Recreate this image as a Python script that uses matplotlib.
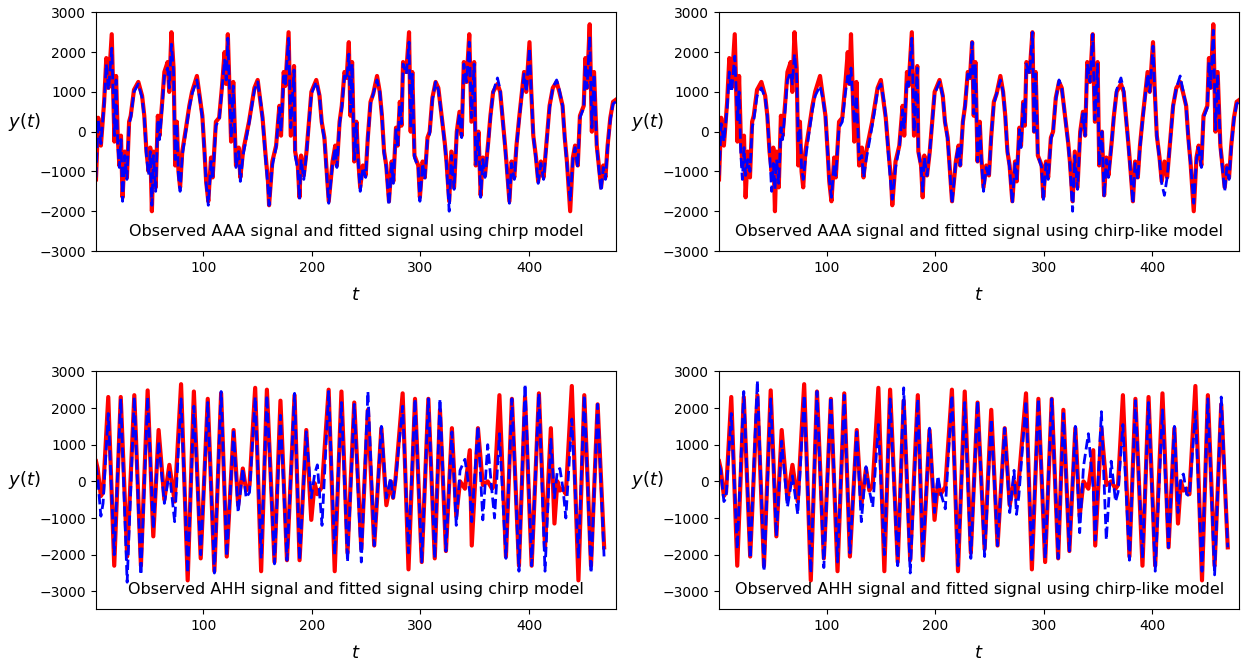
import numpy as np
import matplotlib.pyplot as plt

# AAA signal (top row): time points, observed and two fitted signals
t_aaa = [1, 3, 5.5, 8.5, 10.5, 12.5, 15.5, 18, 19.5, 21,
         22.5, 24, 25.5, 27.5, 29.5, 31.5, 33, 36, 40, 43.5,
         45.5, 47.5, 49.5, 51, 52.5, 54, 56, 58, 59.5, 62,
         64, 67, 68.5, 70.5, 72.5, 74, 75.5, 77, 78.5, 80.5,
         84, 87, 89.5, 94, 96.5, 99, 101, 102.5, 104.5, 107,
         108.5, 111.5, 114.5, 117, 119.5, 121, 122.5, 125.5, 127.5, 130,
         132.5, 134, 136.5, 142, 145, 147, 150, 153, 154.5, 157,
         159.5, 160.5, 163.5, 167, 170, 171.5, 174, 175.5, 178.5, 180.5,
         183.5, 184.5, 187, 188.5, 190, 192.5, 195, 196.5, 199.5, 204,
         207, 209, 211.5, 213, 215.5, 219, 221.5, 223, 225.5, 227.5,
         230, 232, 234, 235.5, 237, 239, 241, 242.5, 244.5, 247,
         249.5, 251.5, 254, 256.5, 260, 262.5, 264.5, 266.5, 268.5, 271,
         273.5, 275, 277.5, 279, 281, 282.5, 284, 287, 289.5, 291,
         292.5, 294.5, 298, 299.5, 302, 304, 306.5, 308.5, 311, 314,
         316.5, 319.5, 322.5, 324, 326.5, 328.5, 331, 333.5, 336, 338,
         340, 342.5, 345, 347, 349.5, 351, 353.5, 355.5, 357.5, 359.5,
         362.5, 364.5, 367, 371, 373.5, 375.5, 378, 379.5, 382, 384,
         386.5, 388.5, 391, 393.5, 395.5, 397.5, 400.5, 402, 404, 406.5,
         408.5, 411, 413.5, 416.5, 419, 422, 425.5, 428, 431, 433,
         435, 438, 440.5, 442.5, 445, 447, 450.5, 452, 453.5, 456,
         458, 460, 462.5, 465, 466.5, 468.5, 470.5, 472.5, 475, 477.5,
         480]
aaa_obs = [-1200, 350, -350, 750, 1850, 1100, 2450, -250, 1400, -100,
           -850, -100, -1650, -500, -1150, 250, 400, 1050, 1250, 900,
           400, -500, -1000, -400, -2000, -500, -1400, 400, -100, 750,
           1500, 1750, 1000, 2500, 1600, -850, 250, -1000, -1400, -500,
           100, 650, 1000, 1400, 900, 400, -500, -1250, -1750, -650,
           -1150, 250, 350, 1100, 2000, 1200, 2450, -250, 1250, -850,
           -400, -1150, -500, 250, 750, 1100, 1300, 650, 350, -500,
           -1250, -1850, -750, -350, 650, -100, 1500, 1150, 2500, -100,
           1650, -500, -850, -1650, -600, -1100, -500, 0, 1000, 1300,
           900, 250, -150, -750, -1750, -750, -350, -850, 250, 650,
           1500, 1350, 2250, 400, 1750, -750, 250, -650, -1400, -850,
           -1100, -150, 750, 950, 1400, 1000, 400, -500, -850, -1750,
           -750, -1250, 100, -350, 750, 150, 1750, 1500, 2500, 0,
           1500, -600, -850, -1650, -750, -1150, -150, 0, 850, 1250,
           1100, 400, -300, -750, -1750, -500, -1400, 0, 500, -100,
           1750, 1250, 2450, 250, 1750, -850, 0, -1600, -650, -1100,
           -250, 400, 1000, 1200, 1000, 400, -350, -850, -1750, -750,
           -1150, -350, 350, 1000, 1500, 1000, 2250, 1100, -100, -650,
           -1250, -750, -1150, -150, 650, 1100, 1250, 1000, 650, -150,
           -750, -2000, -650, -350, -850, 400, 650, 1850, 1100, 2700,
           0, 1500, -350, -1000, -1400, -850, -1150, -350, 350, 750,
           800]
aaa_chirp = [-1150, 300, -300, 700, 1700, 1050, 2100, -100, 1300, -300,
             -900, -200, -1750, -600, -1200, 200, 350, 1000, 1200, 850,
             350, -600, -1100, -500, -1850, -600, -1500, 300, -200, 650,
             1400, 1600, 1100, 2200, 1500, -700, 200, -1100, -1500, -600,
             50, 600, 950, 1300, 850, 350, -550, -1300, -1850, -750,
             -1200, 150, 300, 1050, 1800, 1300, 2350, -150, 1150, -900,
             -500, -1250, -600, 200, 700, 1050, 1250, 700, 300, -600,
             -1400, -1850, -850, -400, 600, 0, 1400, 1200, 2350, 100,
             1550, -600, -950, -1700, -700, -1200, -550, -50, 950, 1250,
             900, 200, -200, -850, -1800, -800, -400, -900, 200, 600,
             1400, 1300, 1950, 500, 1700, -700, 200, -700, -1500, -900,
             -1150, -200, 700, 950, 1300, 1000, 400, -550, -900, -1850,
             -800, -1300, 50, -400, 700, 200, 1700, 1450, 2250, 100,
             1450, -650, -900, -1750, -800, -1200, -200, -50, 800, 1250,
             1050, 400, -350, -800, -2000, -600, -1450, -50, 450, -150,
             1700, 1250, 2250, 350, 1700, -850, -50, -1650, -700, -1150,
             -300, 350, 1000, 1350, 1050, 400, -400, -900, -1800, -800,
             -1200, -400, 300, 950, 1450, 1000, 2100, 1100, -100, -700,
             -1300, -800, -1200, -200, 600, 1100, 1300, 1050, 650, -200,
             -800, -1750, -700, -400, -900, 350, 600, 1700, 1100, 2400,
             100, 1450, -400, -1100, -1500, -900, -1200, -400, 300, 700,
             750]
aaa_chirplike = [-1100, 200, -250, 600, 1500, 1000, 1900, 300, 1000, -500,
                 -1200, -400, -1100, -700, -1000, 100, 300, 900, 1100, 850,
                 400, -500, -1500, -800, -1450, -700, -1300, 100, -200, 600,
                 1300, 1500, 1200, 1950, 1400, -300, 100, -900, -1200, -700,
                 0, 550, 900, 1150, 850, 400, -500, -1200, -1650, -800,
                 -1100, 100, 250, 900, 1400, 1200, 1600, 200, 900, -700,
                 -600, -1150, -700, 150, 650, 1050, 1200, 750, 350, -600,
                 -1450, -1700, -900, -400, 550, 100, 1300, 1150, 2350, 0,
                 1600, -500, -900, -1500, -650, -1100, -500, 0, 950, 1250,
                 900, 250, -200, -800, -1800, -750, -350, -850, 250, 650,
                 1450, 1300, 2250, 450, 1700, -750, 200, -700, -1500, -900,
                 -1150, -150, 700, 950, 1300, 1000, 400, -500, -900, -1800,
                 -800, -1250, 50, -400, 700, 200, 1700, 1450, 2500, 0,
                 1450, -600, -900, -1750, -800, -1200, -200, 0, 800, 1300,
                 1100, 400, -350, -800, -2000, -600, -1450, -50, 450, -100,
                 1700, 1250, 2450, 300, 1700, -850, 0, -1650, -700, -1150,
                 -250, 400, 1050, 1350, 1050, 400, -400, -900, -1800, -800,
                 -1200, -400, 300, 950, 1450, 1000, 2150, 1100, -100, -700,
                 -1300, -1600, -1150, -200, 650, 1100, 1400, 1050, 650, -200,
                 -800, -1800, -700, -400, -900, 350, 600, 1750, 1100, 2550,
                 50, 1450, -400, -1100, -1500, -900, -1200, -400, 300, 700,
                 750]

# AHH signal (bottom row)
t_ahh = [1, 2.5, 5.5, 7.5, 12.3, 17.8, 23.8, 29.7, 36.3, 42.4,
         48.6, 53.8, 58.7, 64, 68.6, 73.5, 79.4, 85.5, 91.2, 97.5,
         104, 110.1, 116.3, 121.5, 127.8, 132, 136.3, 139.4, 142.5, 147.7,
         153.2, 158.5, 165.5, 171, 177, 184, 188.6, 194.8, 199.4, 202.5,
         205, 209.3, 215.4, 221, 227.2, 232.8, 239, 245.5, 251.6, 257.4,
         264, 268.6, 272.6, 274.8, 277, 283.6, 289, 295, 301.2, 307.3,
         313.2, 318, 323.5, 329, 333, 336.5, 341, 345.5, 347.3, 353,
         357.5, 362, 366, 368.3, 372.8, 378.8, 384.3, 390.8, 396.4, 402.5,
         409.2, 414.8, 420.2, 423.5, 426.2, 428.5, 431.4, 434, 439.5, 445.6,
         451, 457.2, 463.3, 469.3]
ahh_obs = [550, 350, -400, -300, 2300, -2300, 2300, -2050, 2350, -2300,
           2480, -1500, 1400, -500, 450, -550, 2650, -2700, 2450, -2100,
           2250, -2450, 2400, -2050, 1400, -650, 350, -250, -100, 2550,
           -2450, 2500, -2200, 2200, -2150, 2350, -2150, 1400, -1050, -50,
           -350, -150, 2500, -2450, 2450, -1950, 2150, -1850, 1950, -1750,
           1450, -650, 0, -450, 50, 2400, -2400, 2250, -2200, 2250,
           -2100, 1950, -1900, 1450, -950, 0, -200, 850, -1750, 1450,
           -100, 0, -200, -100, 2350, -2050, 2250, -2300, 2300, -2300,
           2400, -1800, 1450, -1150, 0, -250, -200, -350, 2600, -2700,
           2350, -2300, 2100, -1800]
ahh_chirp = [450, 100, -950, -600, 1850, -2000, 2250, -2750, 2300, -2550,
             2300, -1300, 1100, -600, 250, -1100, 2250, -2500, 2050, -2000,
             2150, -2500, 2450, -2050, 1350, -850, 350, -450, -300, 2300,
             -2100, 2350, -2250, 1800, -2150, 2400, -2150, 1350, -450, 200,
             450, -1200, 2450, -2000, 2150, -2200, 2100, -2200, 2450, -1750,
             1500, -450, 100, -450, 0, 2050, -1950, 2250, -2200, 2250,
             -2100, 2250, -1900, 1350, -1200, 300, 600, -300, -1100, 1500,
             -1050, 1000, -300, -1000, 1300, -2100, 2250, -2450, 2650, -2300,
             2400, -2450, 1150, -450, 300, 350, -200, -1000, 1700, -2100,
             2350, -2500, 2100, -2100]
ahh_chirplike = [450, 300, -550, -450, 1850, -1850, 2450, -2100, 2750, -2450,
                 2250, -1500, 1100, -700, 150, -900, 2350, -2500, 2450, -2350,
                 2300, -2200, 2350, -1950, 1350, -1100, 400, -250, -700, 1550,
                 -2000, 2250, -2300, 2550, -2500, 2250, -2100, 1450, -850, 150,
                 -300, -750, 2350, -2300, 2150, -2100, 2200, -2050, 1700, -1750,
                 1450, -850, 300, -900, -400, 2200, -2200, 2250, -2100, 2250,
                 -2100, 1850, -1900, 1500, -1400, 400, 1300, -200, -1600, 1900,
                 -1600, 550, -550, -300, 1550, -2150, 2200, -2100, 2150, -2450,
                 1950, -1800, 1500, -850, 100, 200, -350, -400, 1900, -2450,
                 2250, -2550, 2300, -1800]

panels = [
    (t_aaa, aaa_obs, aaa_chirp, 'Observed AAA signal and fitted signal using chirp model'),
    (t_aaa, aaa_obs, aaa_chirplike, 'Observed AAA signal and fitted signal using chirp-like model'),
    (t_ahh, ahh_obs, ahh_chirp, 'Observed AHH signal and fitted signal using chirp model'),
    (t_ahh, ahh_obs, ahh_chirplike, 'Observed AHH signal and fitted signal using chirp-like model'),
]

fig = plt.figure(figsize=(12.5, 6.66), dpi=100)
rects = [[0.0768, 0.6231, 0.4158, 0.3584],
         [0.5752, 0.6231, 0.4163, 0.3584],
         [0.0768, 0.0856, 0.4158, 0.3574],
         [0.5752, 0.0856, 0.4163, 0.3574]]

for i, (t, obs, fit, title) in enumerate(panels):
    ax = fig.add_axes(rects[i])
    ax.plot(t, obs, color='red', lw=3)
    ax.plot(t, fit, 'b--', lw=2)
    ax.set_xlim(1, 480)
    if i < 2:
        ax.set_ylim(-3000, 3000)
    else:
        ax.set_ylim(-3480, 3010)
    ax.set_yticks([-3000, -2000, -1000, 0, 1000, 2000, 3000])
    ax.set_xticks([100, 200, 300, 400])
    ax.set_xlabel('$t$', fontsize=13, va='center')
    ax.xaxis.set_label_coords(0.5, -0.185)
    ax.set_ylabel('$y(t)$', fontsize=13, rotation=0, va='center', ha='center')
    ax.yaxis.set_label_coords(-0.137, 0.54)
    ax.text(0.5, 0.08, title, transform=ax.transAxes, ha='center', va='center', fontsize=11.5)

plt.savefig('out.png')
